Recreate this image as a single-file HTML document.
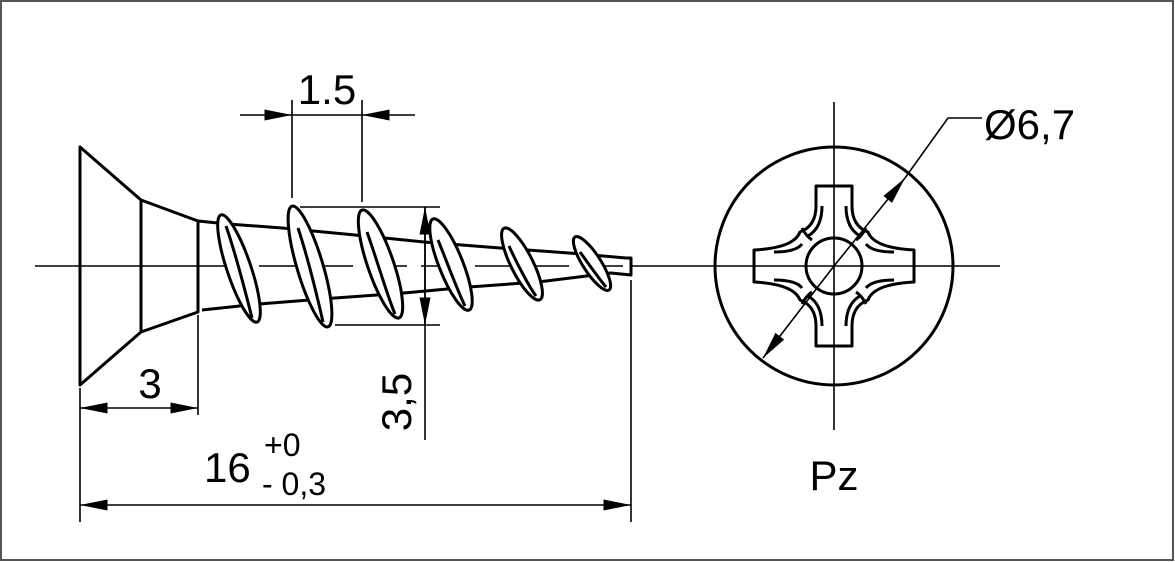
<!DOCTYPE html>
<html><head><style>html,body{margin:0;padding:0;background:#fff}svg{display:block}</style></head>
<body>
<svg width="1175" height="562" viewBox="0 0 1175 562" xmlns="http://www.w3.org/2000/svg">
<rect x="1" y="1" width="1172" height="559" fill="#fff" stroke="#555" stroke-width="2"/>
<defs>
<marker id="a" viewBox="0 0 20 8" refX="20" refY="4" markerWidth="28" markerHeight="11" markerUnits="userSpaceOnUse" orient="auto"><path d="M0,0L20,4L0,8Z" fill="#000"/></marker>
</defs>
<g stroke="#000" fill="none" stroke-width="1.6">
<line x1="35" y1="266" x2="205" y2="266"/>
<line x1="205" y1="266" x2="632" y2="266" stroke-dasharray="40,14"/>
<line x1="632" y1="266" x2="1000" y2="266"/>
<line x1="834" y1="102" x2="834" y2="430"/>
</g>
<g stroke="#000" fill="none" stroke-width="3" stroke-linejoin="round">
<path d="M80,147 L141,200 L198,221 L198,312 L141,332 L80,385 Z"/>
<line x1="141" y1="200" x2="141" y2="332"/>
<path d="M198,221 L228,224 L282,228 L355,235 L424,242 L500,248 L569,253 L626,258 L631,258 L631,275 L611,273 L538,282 L469,287 L404,293 L335,298 L259,304 L202,310"/>
<g fill="#fff">
<ellipse cx="239" cy="268.5" rx="56.5" ry="12" transform="rotate(71.4 239 268.5)"/>
<ellipse cx="310" cy="266.5" rx="63" ry="13" transform="rotate(73.4 310 266.5)"/>
<ellipse cx="380.5" cy="264" rx="57" ry="13" transform="rotate(71.1 380.5 264)"/>
<ellipse cx="451" cy="264.5" rx="49" ry="12" transform="rotate(68.4 451 264.5)"/>
<ellipse cx="522" cy="264" rx="40" ry="11" transform="rotate(63.4 522 264)"/>
<ellipse cx="592" cy="263.5" rx="31.5" ry="9" transform="rotate(57.3 592 263.5)"/>
</g>
<path d="M226,226 C236,255 245,290 252,318"/>
<path d="M298,228 C308,258 318,300 323,322"/>
<path d="M367,232 C377,260 388,298 395,314"/>
<path d="M438,240 C447,262 458,292 465,306"/>
<path d="M509,246 C518,266 530,288 536,296"/>
<path d="M580,252 C590,266 600,280 606,287"/>
<circle cx="834" cy="266" r="119"/>
<circle cx="834" cy="266" r="28"/>
<path d="M816,186 L852,186 L852,206 Q852,226 868,232 Q874,248 914,250 L914,282 Q874,284 868,300 Q852,306 852,326 L852,346 L816,346 L816,326 Q816,306 800,300 Q794,284 754,282 L754,250 Q794,248 800,232 Q816,226 816,206 Z"/>
<path d="M822,206 Q822,228 808,236 M802,228 Q806,236 812,240 M774,252 Q796,252 802,244"/>
<path d="M846,206 Q846,228 860,236 M866,228 Q862,236 856,240 M894,252 Q872,252 866,244"/>
<path d="M822,326 Q822,304 808,296 M802,304 Q806,296 812,292 M774,280 Q796,280 802,288"/>
<path d="M846,326 Q846,304 860,296 M866,304 Q862,296 856,292 M894,280 Q872,280 866,288"/>
</g>
<g stroke="#000" fill="none" stroke-width="1.6">
<line x1="292" y1="100" x2="292" y2="198"/>
<line x1="362" y1="100" x2="362" y2="202"/>
<line x1="240" y1="115" x2="292" y2="115" marker-end="url(#a)"/>
<line x1="415" y1="115" x2="362" y2="115" marker-end="url(#a)"/>
<line x1="292" y1="115" x2="362" y2="115"/>
<line x1="300" y1="207" x2="440" y2="207"/>
<line x1="335" y1="325" x2="440" y2="325"/>
<line x1="425" y1="440" x2="425" y2="207"/>
<line x1="425" y1="266" x2="425" y2="207" marker-end="url(#a)"/>
<line x1="425" y1="266" x2="425" y2="325" marker-end="url(#a)"/>
<line x1="80" y1="388" x2="80" y2="522"/>
<line x1="198" y1="315" x2="198" y2="415"/>
<line x1="139" y1="408" x2="80" y2="408" marker-end="url(#a)"/>
<line x1="139" y1="408" x2="198" y2="408" marker-end="url(#a)"/>
<line x1="631" y1="280" x2="631" y2="522"/>
<line x1="355" y1="505" x2="80" y2="505" marker-end="url(#a)"/>
<line x1="355" y1="505" x2="631" y2="505" marker-end="url(#a)"/>
<line x1="834" y1="266" x2="905" y2="178" marker-end="url(#a)"/>
<line x1="834" y1="266" x2="763" y2="358" marker-end="url(#a)"/>
<polyline points="905,178 948,118 982,118"/>
</g>
<g font-family="Liberation Sans, sans-serif" fill="#000">
<text x="327" y="104" font-size="42" text-anchor="middle">1.5</text>
<text x="150" y="398" font-size="42" text-anchor="middle">3</text>
<text transform="translate(411,402) rotate(-90)" font-size="42" text-anchor="middle">3,5</text>
<text x="204" y="482" font-size="42">16</text>
<text x="264" y="456" font-size="32">+0</text>
<text x="262" y="495" font-size="32">- 0,3</text>
<text x="984" y="139" font-size="42">Ø6,7</text>
<text x="834" y="490" font-size="42" text-anchor="middle">Pz</text>
</g>
</svg>
</body></html>
